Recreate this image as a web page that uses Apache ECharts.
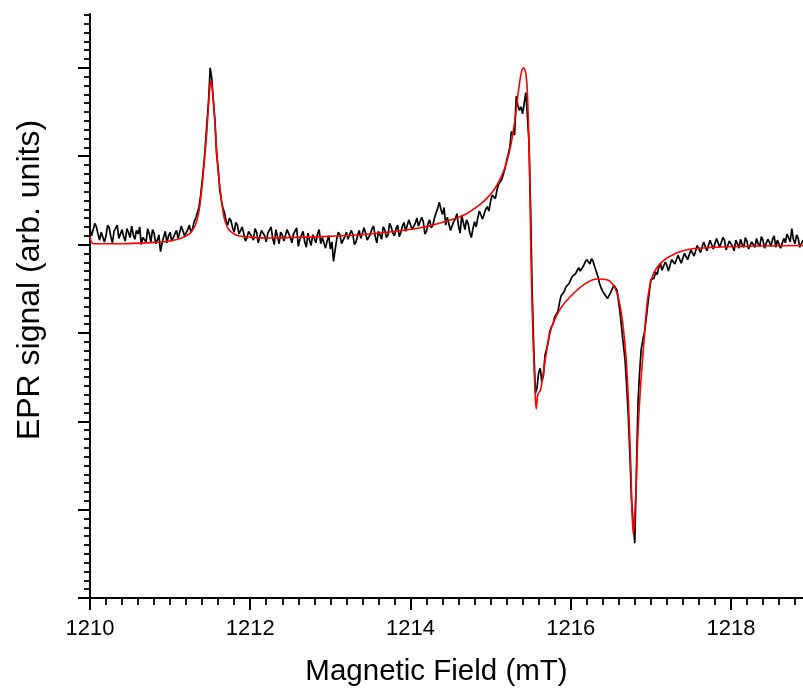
<!DOCTYPE html>
<html>
<head>
<meta charset="utf-8">
<title>EPR spectrum</title>
<script src="https://cdn.jsdelivr.net/npm/echarts@6/dist/echarts.min.js"></script>
<style>
  html, body { margin: 0; padding: 0; background: #ffffff; }
  #chart { width: 803px; height: 688px; }
</style>
</head>
<body>
<div id="chart"></div>
<script>
// Measured EPR trace: uniformly sampled field sweep (mT), signal in arb. units
const fieldStart = 1210.00;
const fieldStep = 0.02;
const measuredSignal = [
  0.18, 0.10, 0.08, 0.24, 0.20, 0.12, 0.05, 0.14, 0.16, 0.03,
  0.10, 0.22, 0.19, 0.09, 0.02, 0.15, 0.13, 0.22, 0.07, 0.12,
  0.17, 0.09, 0.04, 0.18, 0.14, 0.08, 0.21, 0.11, 0.06, 0.16,
  0.12, 0.20, 0.00, 0.08, 0.10, 0.03, 0.18, 0.12, 0.03, 0.17,
  0.13, 0.01, 0.05, 0.11, -0.08, 0.02, 0.09, 0.15, 0.02, 0.10,
  0.14, 0.04, 0.06, 0.12, 0.16, 0.07, 0.08, 0.21, 0.19, 0.10,
  0.12, 0.17, 0.22, 0.14, 0.18, 0.26, 0.30, 0.28, 0.42, 0.55,
  0.72, 0.90, 1.12, 1.38, 1.62, 2.00, 1.88, 1.62, 1.40, 1.02,
  0.86, 0.62, 0.50, 0.41, 0.36, 0.26, 0.22, 0.30, 0.27, 0.19,
  0.14, 0.25, 0.22, 0.12, 0.10, 0.20, 0.19, 0.04, 0.08, 0.15,
  0.16, 0.09, 0.05, 0.18, 0.14, 0.02, 0.09, 0.16, 0.18, 0.10,
  0.03, 0.13, 0.12, 0.20, 0.07, 0.00, 0.17, 0.09, 0.01, 0.14,
  0.11, 0.04, 0.06, 0.17, 0.15, 0.08, 0.02, 0.12, 0.10, 0.19,
  -0.02, 0.06, 0.08, 0.15, 0.03, -0.03, 0.13, 0.05, -0.01, 0.11,
  0.07, 0.02, 0.12, 0.17, 0.01, 0.08, 0.09, -0.04, 0.04, 0.10,
  -0.05, 0.03, -0.19, -0.06, 0.06, 0.14, 0.11, 0.01, 0.02, 0.09,
  0.14, 0.06, 0.05, 0.16, 0.12, 0.00, 0.03, 0.10, 0.16, 0.07,
  0.08, 0.19, 0.13, 0.05, 0.04, 0.12, 0.18, 0.21, 0.09, 0.02,
  0.15, 0.11, 0.06, 0.20, 0.17, 0.08, 0.11, 0.24, 0.20, 0.13,
  0.10, 0.18, 0.22, 0.09, 0.14, 0.21, 0.25, 0.15, 0.16, 0.28,
  0.27, 0.17, 0.18, 0.24, 0.30, 0.21, 0.20, 0.31, 0.26, 0.12,
  0.15, 0.24, 0.28, 0.19, 0.22, 0.30, 0.36, 0.41, 0.48, 0.40,
  0.34, 0.42, 0.22, 0.31, 0.30, 0.16, 0.18, 0.26, 0.29, 0.35,
  0.21, 0.13, 0.33, 0.25, 0.17, 0.28, 0.24, 0.14, 0.08, 0.18,
  0.26, 0.20, 0.30, 0.38, 0.36, 0.29, 0.31, 0.40, 0.43, 0.38,
  0.49, 0.56, 0.55, 0.52, 0.62, 0.68, 0.70, 0.74, 0.80, 0.86,
  0.95, 1.02, 1.10, 1.28, 1.30, 1.24, 1.68, 1.58, 1.52, 1.56,
  1.48, 1.60, 1.72, 1.45, 1.15, 0.40, -0.55, -1.20, -1.68, -1.62,
  -1.45, -1.40, -1.55, -1.48, -1.25, -1.18, -1.10, -0.98, -0.93, -0.90,
  -0.82, -0.84, -0.76, -0.66, -0.58, -0.60, -0.53, -0.48, -0.50, -0.44,
  -0.42, -0.36, -0.38, -0.33, -0.31, -0.26, -0.30, -0.28, -0.24, -0.20,
  -0.17, -0.19, -0.22, -0.16, -0.19, -0.25, -0.27, -0.36, -0.44, -0.49,
  -0.53, -0.56, -0.57, -0.61, -0.59, -0.54, -0.50, -0.46, -0.47, -0.52,
  -0.66, -0.80, -0.98, -1.15, -1.32, -1.62, -1.95, -2.40, -2.90, -3.15,
  -3.38, -2.60, -1.80, -1.45, -1.19, -1.08, -1.00, -0.86, -0.70, -0.55,
  -0.40, -0.42, -0.38, -0.31, -0.34, -0.26, -0.21, -0.29, -0.27, -0.20,
  -0.23, -0.30, -0.28, -0.17, -0.18, -0.22, -0.24, -0.12, -0.14, -0.21,
  -0.20, -0.10, -0.09, -0.17, -0.15, -0.06, -0.05, -0.13, -0.12, -0.01,
  -0.03, -0.09, -0.10, 0.03, 0.02, -0.07, -0.06, 0.05, 0.04, -0.05,
  -0.04, 0.07, 0.06, -0.03, -0.02, 0.08, 0.05, -0.06, -0.05, 0.04,
  0.03, -0.02, -0.07, 0.05, 0.01, -0.04, 0.06, 0.00, -0.03, 0.08,
  0.04, -0.05, -0.06, 0.03, 0.02, -0.03, 0.07, 0.01, -0.02, 0.09,
  0.05, -0.04, -0.04, 0.06, 0.03, -0.02, 0.06, 0.10, -0.03, 0.05,
  0.04, -0.04, -0.05, 0.07, 0.02, 0.12, 0.08, 0.03, 0.18, 0.06,
  0.01, 0.11, 0.07, -0.03, -0.02, 0.05
];

// Simulated (fitted) spectrum, sampled more densely around the lines
const fitField = [
  1210.00, 1210.04, 1210.40, 1210.80, 1211.00, 1211.16, 1211.25, 1211.31, 1211.35, 1211.375,
  1211.41, 1211.44, 1211.46, 1211.48, 1211.50, 1211.51, 1211.52, 1211.54, 1211.56, 1211.58,
  1211.60, 1211.625, 1211.65, 1211.67, 1211.70, 1211.725, 1211.78, 1211.85, 1212.00, 1212.25,
  1212.50, 1212.88, 1213.29, 1213.71, 1214.13, 1214.54, 1214.70, 1214.85, 1214.95, 1215.05,
  1215.13, 1215.20, 1215.26, 1215.31, 1215.35, 1215.38, 1215.41, 1215.435, 1215.455, 1215.47,
  1215.485, 1215.50, 1215.52, 1215.54, 1215.56, 1215.57, 1215.59, 1215.625, 1215.67, 1215.73,
  1215.79, 1215.875, 1216.00, 1216.17, 1216.33, 1216.46, 1216.54, 1216.60, 1216.65, 1216.69,
  1216.72, 1216.75, 1216.78, 1216.81, 1216.84, 1216.875, 1216.92, 1216.96, 1217.02, 1217.125,
  1217.29, 1217.50, 1218.125, 1218.91
];
const fitSignal = [
  0.09, 0.01, 0.01, 0.025, 0.04, 0.08, 0.13, 0.21, 0.33, 0.47,
  0.77, 1.08, 1.30, 1.60, 1.82, 1.85, 1.81, 1.64, 1.36, 1.08,
  0.83, 0.62, 0.44, 0.32, 0.23, 0.18, 0.13, 0.10, 0.085, 0.075,
  0.08, 0.09, 0.105, 0.14, 0.19, 0.29, 0.35, 0.44, 0.52, 0.63,
  0.76, 0.93, 1.16, 1.45, 1.75, 1.93, 2.00, 1.96, 1.80, 1.45,
  0.95, 0.10, -0.74, -1.30, -1.75, -1.86, -1.70, -1.64, -1.38, -1.04,
  -0.87, -0.72, -0.585, -0.45, -0.39, -0.40, -0.47, -0.62, -0.89, -1.26,
  -1.76, -2.51, -3.28, -2.89, -2.13, -1.57, -1.04, -0.62, -0.36, -0.21,
  -0.11, -0.05, -0.02, -0.01
];

// Axis tick positions
const fieldTicks = [1210, 1212, 1214, 1216, 1218];
const signalTicks = [-4, -3, -2, -1, 0, 1, 2];

const measuredData = measuredSignal.map((v, i) => [+(fieldStart + i * fieldStep).toFixed(2), v]);
const fitData = fitField.map((f, i) => [f, fitSignal[i]]);

const chart = echarts.init(document.getElementById('chart'), null, { renderer: 'canvas' });
const axisColor = '#000000';
const font = '"Liberation Sans", Arial, sans-serif';

chart.setOption({
  animation: false,
  backgroundColor: '#ffffff',
  grid: { left: 90, right: 0, top: 14, bottom: 90, containLabel: false, outerBoundsMode: 'none' },
  xAxis: {
    type: 'value',
    min: 1210,
    max: 1218.9,
    interval: 2,
    name: 'Magnetic Field (mT)',
    nameLocation: 'middle',
    nameGap: 59,
    nameTextStyle: { fontFamily: font, fontSize: 29.5, color: '#000', padding: [0, 20, 0, 0] },
    axisLine: { show: true, onZero: false, lineStyle: { color: axisColor, width: 2 } },
    axisTick: { show: true, inside: false, length: 12, customValues: fieldTicks, lineStyle: { color: axisColor, width: 2 } },
    minorTick: { show: true, splitNumber: 10, length: 7, lineStyle: { color: axisColor, width: 1.8 } },
    axisLabel: {
      customValues: fieldTicks, margin: 20, fontFamily: font, fontSize: 22, color: '#000',
      formatter: (v) => String(Math.round(v))
    },
    splitLine: { show: false },
    minorSplitLine: { show: false }
  },
  yAxis: {
    type: 'value',
    min: -4,
    max: 2.61,
    interval: 1,
    name: 'EPR signal (arb. units)',
    nameLocation: 'middle',
    nameRotate: 90,
    nameGap: 44,
    nameTextStyle: { fontFamily: font, fontSize: 32, color: '#000', padding: [0, 0, 0, 52] },
    axisLine: { show: true, onZero: false, lineStyle: { color: axisColor, width: 2 } },
    axisTick: { show: true, inside: false, length: 12, customValues: signalTicks, lineStyle: { color: axisColor, width: 2 } },
    minorTick: { show: true, splitNumber: 10, length: 6, lineStyle: { color: axisColor, width: 1.8 } },
    axisLabel: { show: false },
    splitLine: { show: false },
    minorSplitLine: { show: false }
  },
  series: [
    {
      name: 'Experiment',
      type: 'line',
      data: measuredData,
      showSymbol: false,
      symbol: 'none',
      clip: true,
      lineStyle: { color: '#000000', width: 1.7 },
      z: 2
    },
    {
      name: 'Simulation',
      type: 'line',
      data: fitData,
      showSymbol: false,
      symbol: 'none',
      smooth: 0.3,
      clip: true,
      lineStyle: { color: '#ff0000', width: 1.6 },
      z: 3
    }
  ]
});
</script>
</body>
</html>
